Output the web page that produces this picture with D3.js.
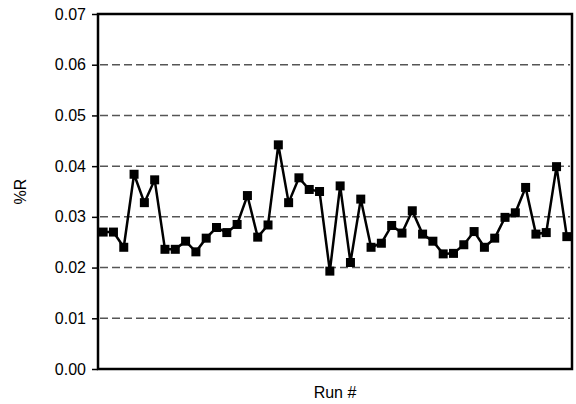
<!DOCTYPE html>
<html>
<head>
<meta charset="utf-8">
<script src="https://cdn.jsdelivr.net/npm/d3@7"></script>
<style>
  body { margin: 0; background: #fff; }
  svg { display: block; font-family: "Liberation Sans", Arial, sans-serif; }
  .grid line { stroke: #555; stroke-width: 1.5px; stroke-dasharray: 8,4; }
</style>
</head>
<body>
<div class="container"></div>
<script>
// %R per run
var runs = d3.range(1, 47);
var percentR = [
  0.0270, 0.0270, 0.0240, 0.0384, 0.0328, 0.0373, 0.0236, 0.0236, 0.0252, 0.0231,
  0.0258, 0.0279, 0.0269, 0.0285, 0.0342, 0.0260, 0.0284, 0.0442, 0.0328, 0.0377,
  0.0354, 0.0350, 0.0193, 0.0361, 0.0210, 0.0335, 0.0240, 0.0248, 0.0283, 0.0268,
  0.0312, 0.0266, 0.0252, 0.0227, 0.0228, 0.0245, 0.0271, 0.0240, 0.0258, 0.0299,
  0.0308, 0.0358, 0.0266, 0.0269, 0.0399, 0.0261
];
var yTicks = [0, 0.01, 0.02, 0.03, 0.04, 0.05, 0.06, 0.07];
var gridTicks = [0.01, 0.02, 0.03, 0.04, 0.05, 0.06];

const WIDTH = 576;
const HEIGHT = 404;
const LEFT = 98, RIGHT = 572, TOP = 14, BOTTOM = 369;

var svg = d3.select('.container').append('svg')
  .attr('width', WIDTH)
  .attr('height', HEIGHT);

var xScale = d3.scaleLinear()
  .domain([0.5, runs.length + 0.5])
  .range([LEFT, RIGHT]);

var yScale = d3.scaleLinear()
  .domain([0, 0.07])
  .range([BOTTOM, TOP]);

// dashed grid
svg.append('g')
  .attr('class', 'grid')
  .selectAll('line')
  .data(gridTicks)
  .enter().append('line')
  .attr('x1', LEFT + 2)
  .attr('x2', RIGHT - 2)
  .attr('y1', function(d){ return yScale(d); })
  .attr('y2', function(d){ return yScale(d); });

// frame
svg.append('rect')
  .attr('x', LEFT)
  .attr('y', TOP)
  .attr('width', RIGHT - LEFT)
  .attr('height', BOTTOM - TOP)
  .attr('fill', 'none')
  .attr('stroke', '#000')
  .attr('stroke-width', 2.5);

var yAxis = d3.axisLeft(yScale)
  .tickValues(yTicks)
  .tickSize(6)
  .tickPadding(6)
  .tickFormat(d3.format('.2f'));

var gy = svg.append('g')
  .attr('transform', 'translate(' + LEFT + ',0)')
  .call(yAxis);
gy.select('.domain').remove();
gy.selectAll('.tick line').attr('stroke', '#000').attr('stroke-width', 1.5);
gy.selectAll('.tick text')
  .attr('font-size', 16)
  .attr('fill', '#000')
  .attr('font-family', '"Liberation Sans", Arial, sans-serif');

var line = d3.line()
  .x(function(d, i){ return xScale(runs[i]); })
  .y(function(d){ return yScale(d); });

svg.append('path')
  .datum(percentR)
  .attr('d', line)
  .attr('fill', 'none')
  .attr('stroke', '#000')
  .attr('stroke-width', 2.5);

var SQ = 9;
svg.selectAll('rect.pt')
  .data(percentR)
  .enter().append('rect')
  .attr('class', 'pt')
  .attr('x', function(d, i){ return xScale(runs[i]) - SQ / 2; })
  .attr('y', function(d){ return yScale(d) - SQ / 2; })
  .attr('width', SQ)
  .attr('height', SQ)
  .attr('fill', '#000');

svg.append('text')
  .attr('x', (LEFT + RIGHT) / 2)
  .attr('y', 398)
  .attr('text-anchor', 'middle')
  .attr('font-size', 16)
  .text('Run #');

svg.append('text')
  .attr('transform', 'translate(26,' + ((TOP + BOTTOM) / 2) + ') rotate(-90)')
  .attr('text-anchor', 'middle')
  .attr('font-size', 16)
  .text('%R');
</script>
</body>
</html>
